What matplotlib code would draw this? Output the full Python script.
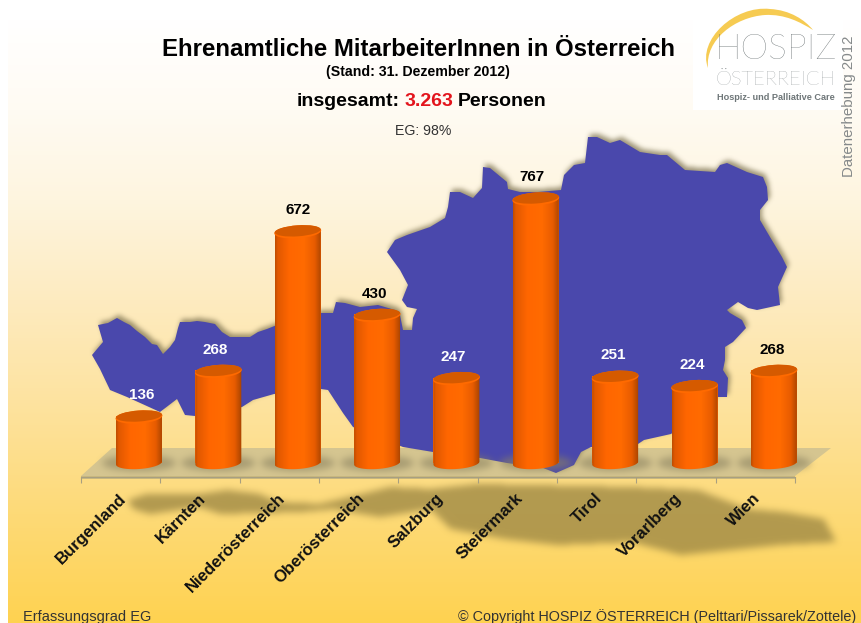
import numpy as np
import matplotlib
matplotlib.use('Agg')
import matplotlib.pyplot as plt
from matplotlib.colors import to_rgb
from matplotlib.path import Path
from matplotlib.patches import Ellipse, PathPatch, Polygon, Rectangle
from matplotlib.transforms import IdentityTransform

plt.rcParams['font.family'] = ['Liberation Sans', 'DejaVu Sans']

W, H = 862, 623

# chart data
states = ['Burgenland', 'Kärnten', 'Niederösterreich', 'Oberösterreich', 'Salzburg',
          'Steiermark', 'Tirol', 'Vorarlberg', 'Wien']
volunteers = [136, 268, 672, 430, 247, 767, 251, 224, 268]
label_colors = ['white', 'white', 'black', 'black', 'white', 'black', 'white', 'white', 'black']

# backdrop artwork, traced in pixels
austria = [(98, 325), (108, 323), (117, 318), (124, 322), (130, 325), (137, 331), (145, 337), (152, 344),
           (157, 345), (163, 354), (170, 347), (175, 340), (178, 328), (180, 322), (190, 322), (197, 321),
           (205, 322), (215, 324), (222, 332), (230, 337), (240, 337), (250, 337), (258, 332), (267, 329),
           (277, 325), (300, 320), (320, 313), (333, 313), (336, 302), (345, 303), (360, 307), (378, 305),
           (395, 310), (400, 315), (403, 330), (412, 330), (413, 318), (417, 309), (407, 307), (402, 300),
           (408, 285), (400, 270), (387, 252), (395, 240), (407, 235), (430, 227), (445, 218), (448, 207),
           (450, 192), (460, 192), (473, 198), (482, 188), (483, 167), (490, 168), (507, 182), (508, 189),
           (520, 192), (538, 192), (561, 190), (564, 175), (574, 165), (585, 163), (588, 137), (597, 137),
           (610, 143), (620, 140), (640, 152), (660, 155), (667, 155), (685, 170), (715, 172), (720, 165),
           (727, 163), (747, 172), (763, 177), (767, 187), (768, 200), (760, 210), (760, 220), (770, 237),
           (782, 257), (787, 267), (778, 287), (780, 305), (757, 310), (748, 308), (738, 302), (727, 310),
           (730, 313), (742, 320), (746, 328), (733, 342), (725, 347), (725, 360), (723, 370), (728, 378),
           (727, 397), (717, 397), (671, 434), (644, 440), (638, 444), (591, 447), (581, 452), (574, 465),
           (556, 473), (543, 468), (507, 463), (480, 458), (433, 452), (403, 447), (353, 427), (343, 413),
           (328, 390), (321, 389), (321, 390), (274, 394), (253, 400), (242, 407), (195, 416), (185, 415),
           (177, 399), (160, 412), (127, 397), (110, 390), (100, 369), (92, 355), (103, 342)]
map_reflection = [(128, 500), (147, 494), (200, 494), (227, 490), (260, 494), (277, 502), (320, 504), (362, 494),
                  (390, 487), (431, 489), (478, 484), (631, 487), (698, 490), (748, 509), (784, 512), (824, 519),
                  (836, 542), (781, 545), (681, 555), (631, 542), (558, 545), (504, 539), (451, 529), (431, 509),
                  (380, 517), (333, 509), (300, 512), (220, 514), (200, 507), (150, 514), (133, 509)]
floor = [(81, 476), (112, 448), (831, 448), (795, 476)]

grad_y = [20, 110, 200, 300, 400, 500, 623]
grad_colors = ['#FFFFFF', '#FFFBF3', '#FEF5DF', '#FDEBC0', '#FDE3A0', '#FDDB7C', '#FFD250']


def blur(mask, r):
    """three box passes, close enough to a gaussian"""
    for _ in range(3):
        mask = sum(np.roll(mask, k, axis=0) for k in range(-r, r + 1)) / (2 * r + 1)
        mask = sum(np.roll(mask, k, axis=1) for k in range(-r, r + 1)) / (2 * r + 1)
    return mask


def soft_layer(ax, mask, color, alpha, r, zorder):
    rgba = np.zeros((H, W, 4))
    rgba[..., :3] = to_rgb(color)
    rgba[..., 3] = blur(mask, r) * alpha
    ax.imshow(rgba, extent=(0, W, H, 0), aspect='auto', interpolation='bilinear', zorder=zorder)


def polygon_mask(points, dx=0, dy=0):
    xx, yy = np.meshgrid(np.arange(W) + 0.5 - dx, np.arange(H) + 0.5 - dy)
    grid = np.column_stack([xx.ravel(), yy.ravel()])
    return Path(points + points[:1]).contains_points(grid).reshape(H, W).astype(float)


def tilted_arc(cx, cy, a, b, angle, t):
    rad = np.radians(angle)
    x = a * np.cos(t)
    y = b * np.sin(t)
    return np.column_stack([cx + x * np.cos(rad) - y * np.sin(rad), cy + x * np.sin(rad) + y * np.cos(rad)])


fig = plt.figure(figsize=(W / 100, H / 100), dpi=100, facecolor='white')

# background layer in pixel coordinates
ax_bg = fig.add_axes([0, 0, 1, 1])
rows = np.arange(H)
stops = np.array([to_rgb(c) for c in grad_colors])
column = np.column_stack([np.interp(rows, grad_y, stops[:, i]) for i in range(3)])
ax_bg.imshow(column[:, None, :], extent=(8, W, H, 0), aspect='auto', interpolation='bilinear', zorder=0)
ax_bg.add_patch(Rectangle((693, 0), 150, 110, color='white', lw=0, zorder=1))

soft_layer(ax_bg, polygon_mask(map_reflection), '#A08A45', 0.8, 3, 2)
ax_bg.add_patch(Polygon(floor, closed=True, color='#D5C590', lw=0, zorder=3))
ax_bg.add_patch(Rectangle((81, 476), 714, 3, color='#C9B97F', lw=0, zorder=3))
soft_layer(ax_bg, polygon_mask(austria, dx=2, dy=-3), '#7C7250', 0.75, 2, 4)
ax_bg.add_patch(Polygon(austria, closed=True, color='#4A48AC', lw=0, zorder=5))

# logo
arc_verts = [(708, 68), (697, 40), (735, 5), (770, 9), (790, 10), (805, 20), (813, 30),
             (800, 22), (785, 14), (765, 15), (735, 17), (705, 40), (708, 68), (708, 68)]
arc_codes = [Path.MOVETO] + [Path.CURVE4] * 12 + [Path.CLOSEPOLY]
ax_bg.add_patch(PathPatch(Path(arc_verts, arc_codes), fc='#F6CB52', lw=0, zorder=7))
ax_bg.text(776, 49, 'HOSPIZ', fontsize=25.5, family='Lato', fontweight='light', color='#5F6769',
           ha='center', va='center', zorder=8)
ax_bg.text(776, 80, 'ÖSTERREICH', fontsize=14.6, family='Lato', fontweight='light', color='#6F7779',
           ha='center', va='center', zorder=8)
ax_bg.text(776, 98, 'Hospiz- und Palliative Care', fontsize=6.6, color='#6E7678', ha='center', va='center',
           fontweight='bold', zorder=8)
ax_bg.text(849.5, 106, 'Datenerhebung 2012', fontsize=10.85, color='#85898A', rotation=90, ha='center', va='center', zorder=8)

# headings
ax_bg.text(418.5, 49.5, 'Ehrenamtliche MitarbeiterInnen in Österreich', fontsize=17.3, fontweight='bold',
           ha='center', va='center', zorder=8)
ax_bg.text(418, 72, '(Stand: 31. Dezember 2012)', fontsize=10.2, fontweight='bold', ha='center', va='center', zorder=8)
ax_bg.text(297, 101, 'insgesamt:', fontsize=14, fontweight='bold', ha='left', va='center', zorder=8)
ax_bg.text(405, 101, '3.263', fontsize=14, fontweight='bold', color='#E3141C', ha='left', va='center', zorder=8)
ax_bg.text(458, 101, 'Personen', fontsize=14, fontweight='bold', ha='left', va='center', zorder=8)
ax_bg.text(423.5, 131, 'EG: 98%', fontsize=10.2, color='#333333', ha='center', va='center', zorder=8)
ax_bg.text(23, 617, 'Erfassungsgrad EG', fontsize=10.5, color='#333333', ha='left', va='center', zorder=8)
ax_bg.text(856, 617, '© Copyright HOSPIZ ÖSTERREICH (Pelttari/Pissarek/Zottele)', fontsize=10.4, color='#333333',
           ha='right', va='center', zorder=8)

ax_bg.set_xlim(0, W)
ax_bg.set_ylim(H, 0)
ax_bg.axis('off')

# bars: 0 sits at pixel row 463, 767 at row 198
ymin, ymax = -30, 800
scale = (463 - 198) / 767
ax_bar = fig.add_axes([99.3 / W, (H - 463 - (0 - ymin) * scale) / H, 714.3 / W, (ymax - ymin) * scale / H])
ax_bar.patch.set_visible(False)
ax_bar.axis('off')
x_pos = np.arange(len(states))
bar_w = 0.58
ax_bar.set_xlim(-0.5, 8.5)
ax_bar.set_ylim(ymin, ymax)
ax_bar.bar(x_pos, volunteers, width=bar_w, color='#FF6600', zorder=1)

# soft shadows on the floor below every bar
base_px = ax_bar.transData.transform(np.column_stack([x_pos, np.zeros(len(x_pos))]))
xx, yy = np.meshgrid(np.arange(W) + 0.5, np.arange(H) + 0.5)
shadow = np.zeros((H, W))
for cx, cy in base_px:
    shadow[((xx - cx) / 37) ** 2 + ((yy - (H - cy)) / 8) ** 2 < 1] = 1
soft_layer(ax_bg, shadow, '#8B8260', 0.6, 3, 6)
ax_bg.set_xlim(0, W)
ax_bg.set_ylim(H, 0)

# cylinder shading
shade_pos = [0, 0.05, 0.3, 0.62, 0.85, 1]
shade_cols = np.array([to_rgb(c) for c in ['#C04E00', '#E05800', '#FF6600', '#FF6B00', '#E85C00', '#A84400']])
u = np.linspace(0, 1, 64)
shade = np.column_stack([np.interp(u, shade_pos, shade_cols[:, i]) for i in range(3)])[None, :, :]
tilt = 4
half_w = bar_w / 2 * 714.3 / 9
for xp, v in zip(x_pos, volunteers):
    (bx, by), (tx, ty) = ax_bar.transData.transform([(xp, 0), (xp, v)])
    lower = tilted_arc(bx, by, half_w, 6, tilt, np.linspace(np.pi, 2 * np.pi, 40))
    upper = tilted_arc(tx, ty, half_w, 6, tilt, np.array([0, np.pi]))
    body = PathPatch(Path(np.vstack([lower, upper, lower[:1]])), transform=IdentityTransform(), lw=0, fc='none')
    ax_bar.add_patch(body)
    im = ax_bar.imshow(shade, extent=(xp - bar_w / 2, xp + bar_w / 2, ymin, v + 30), aspect='auto',
                       interpolation='bilinear', zorder=1.5)
    im.set_clip_path(body)
    ax_bar.add_patch(Ellipse((tx, ty - 1), 2 * half_w + 1, 13, angle=tilt, transform=IdentityTransform(),
                             fc='#FF6A00', lw=0, zorder=2))
    ax_bar.add_patch(Ellipse((tx, ty), 2 * half_w, 11, angle=tilt, transform=IdentityTransform(),
                             fc='#D55A00', lw=0, zorder=2))
ax_bar.set_xlim(-0.5, 8.5)
ax_bar.set_ylim(ymin, ymax)

# value labels do not sit quite centred in the original, nudges in points
label_dx = [2, -2, 0, -1.5, -2.5, -3, -1.5, -2, -1.5]
for xp, v, col, dx in zip(x_pos, volunteers, label_colors, label_dx):
    ax_bar.annotate(str(v), (xp, v), xytext=(dx, 15), textcoords='offset points', ha='center', va='center',
                    fontsize=11, fontweight='bold', color=col, zorder=3)

# category axis along the front edge of the floor
ax_x = fig.add_axes([81 / W, (H - 477) / H, 714 / W, 0.0005])
ax_x.patch.set_visible(False)
for side in ['top', 'left', 'right']:
    ax_x.spines[side].set_visible(False)
ax_x.spines['bottom'].set_color('#A89F80')
ax_x.set_yticks([])
ax_x.set_xlim(-0.5, 8.5)
ax_x.set_xticks(np.arange(-0.5, 9), labels=[])
ax_x.tick_params(axis='x', which='major', length=4.5, width=0.8, color='#A89F80')
ax_x.set_xticks(x_pos - 0.03, labels=states, minor=True)
ax_x.tick_params(axis='x', which='minor', length=0, pad=10)
plt.setp(ax_x.get_xticklabels(minor=True), rotation=45, ha='right', rotation_mode='anchor',
         fontweight='bold', fontsize=12.1, color='#111111')

fig.savefig('out.png', dpi=100)
